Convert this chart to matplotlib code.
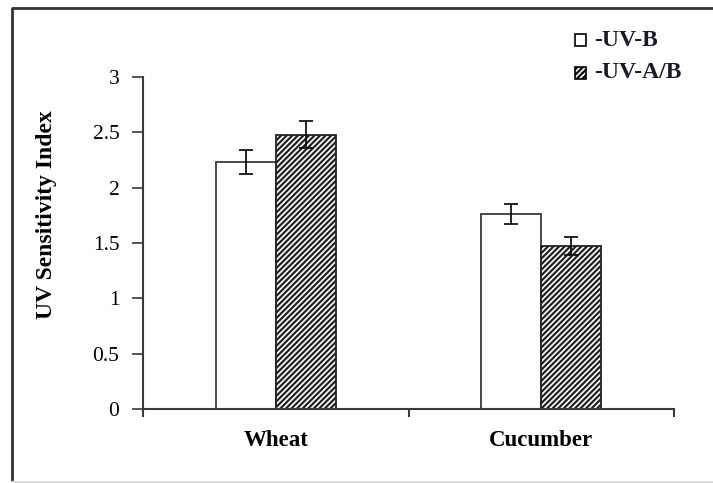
import matplotlib
matplotlib.use("Agg")
import matplotlib.pyplot as plt
from matplotlib.lines import Line2D
from matplotlib.patches import Rectangle
import numpy as np

plt.rcParams["font.family"] = ["Liberation Serif", "DejaVu Serif"]
plt.rcParams["hatch.linewidth"] = 1.6

crops = ["Wheat", "Cucumber"]
uvb = [2.23, 1.76]
uvb_err = [0.11, 0.09]
uvab = [2.48, 1.47]
uvab_err = [0.12, 0.08]
series_labels = ["-UV-B", "-UV-A/B"]

fig = plt.figure(figsize=(7.13, 4.83), dpi=100)
ax = fig.add_axes([0.2006, 0.1532, 0.7447, 0.6874])

x = np.arange(len(crops)) + 0.5
w = 0.226
edge = "#3a3a3a"
ax.bar(x - w / 2, uvb, w, color="white", edgecolor=edge, linewidth=1.3, zorder=2)
ax.bar(x + w / 2, uvab, w, color="white", edgecolor="#222222", hatch="//////",
       linewidth=1.3, zorder=2)
ax.errorbar(x - w / 2, uvb, yerr=uvb_err, fmt="none", ecolor="black",
            elinewidth=1.2, capsize=5, capthick=1.2, zorder=3)
ax.errorbar(x + w / 2, uvab, yerr=uvab_err, fmt="none", ecolor="black",
            elinewidth=1.2, capsize=5, capthick=1.2, zorder=3)

ax.set_xlim(0, len(crops))
ax.set_ylim(0, 3)
ax.set_yticks(np.arange(0, 3.01, 0.5))
ax.set_yticklabels(["0", "0.5", "1", "1.5", "2", "2.5", "3"], fontsize=15.5)
ax.set_xticks([0, 1, 2])
ax.set_xticklabels([])
ax.set_xticks(x, minor=True)
ax.set_xticklabels(crops, minor=True, fontsize=16.5, fontweight="bold")
ax.tick_params(axis="x", which="minor", length=0, pad=15)
ax.tick_params(axis="x", which="major", length=6, width=1.5, color=edge)
ax.tick_params(axis="y", length=8, width=1.2, color=edge, pad=9)
for side in ["top", "right"]:
    ax.spines[side].set_visible(False)
for side in ["left", "bottom"]:
    ax.spines[side].set_linewidth(1.5)
    ax.spines[side].set_color(edge)
ax.set_ylabel("UV Sensitivity Index", fontsize=17, fontweight="bold")
ax.yaxis.set_label_coords(-0.162, 0.584)

# legend entries drawn as small swatches in figure coordinates
fw, fh = fig.get_size_inches() * fig.dpi
for i, (lab, hatch) in enumerate(zip(series_labels, [None, "//////"])):
    yc = 40 + i * 33
    fig.patches.append(Rectangle((575 / fw, 1 - (yc + 6) / fh), 11 / fw, 12 / fh,
                                 transform=fig.transFigure, facecolor="white",
                                 edgecolor="black", hatch=hatch, linewidth=1.2))
    fig.text(594 / fw, 1 - yc / fh, lab, fontsize=17, fontweight="bold",
             va="center", ha="left", color="#1a1a2e")

# outer frame
fig.lines.append(Line2D([12 / fw, 12 / fw, 1], [0, 1 - 8 / fh, 1 - 8 / fh],
                        transform=fig.transFigure, color="#333333", linewidth=2))
fig.lines.append(Line2D([12 / fw, 1], [1.5 / fh, 1.5 / fh],
                        transform=fig.transFigure, color="#dddddd", linewidth=1.5))

fig.savefig("out.png", dpi=100)
